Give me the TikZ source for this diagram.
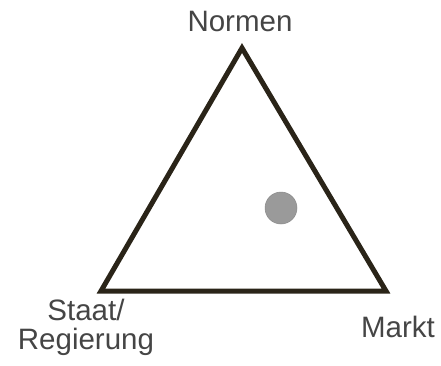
\documentclass[tikz,border=0pt]{standalone}
\usepackage{fontspec}
\setmainfont{Liberation Sans}
\usetikzlibrary{positioning}
\definecolor{rand}{HTML}{2A2418}
\definecolor{schrift}{HTML}{454545}
\definecolor{punkt}{HTML}{9A9A9A}
\tikzset{
  ecke/.style={font=\fontsize{29.5}{29}\selectfont,text=schrift,inner sep=0pt},
  dreieck/.style={draw=rand,line width=5pt,line join=miter},
}
\begin{document}
\begin{tikzpicture}[x=1pt,y=-1pt]
\useasboundingbox (0,0) rectangle (441,365);
\coordinate (oben) at (242,48);
\coordinate (links) at (101,291);
\coordinate (rechts) at (386,291);
\draw[dreieck] (oben) -- (rechts) -- (links) -- cycle;
\node[circle,fill=punkt,draw=punkt!90!black,line width=0.5pt,minimum size=32pt,inner sep=0pt] (pos) at (281,208) {};
\node[ecke,anchor=base] (normen) at (240,31) {Normen};
\node[ecke,anchor=base,align=center] (staat) at (86,349) {Staat/\\Regierung};
\node[ecke,anchor=base] (markt) at (398,337) {Markt};
\end{tikzpicture}
\end{document}
